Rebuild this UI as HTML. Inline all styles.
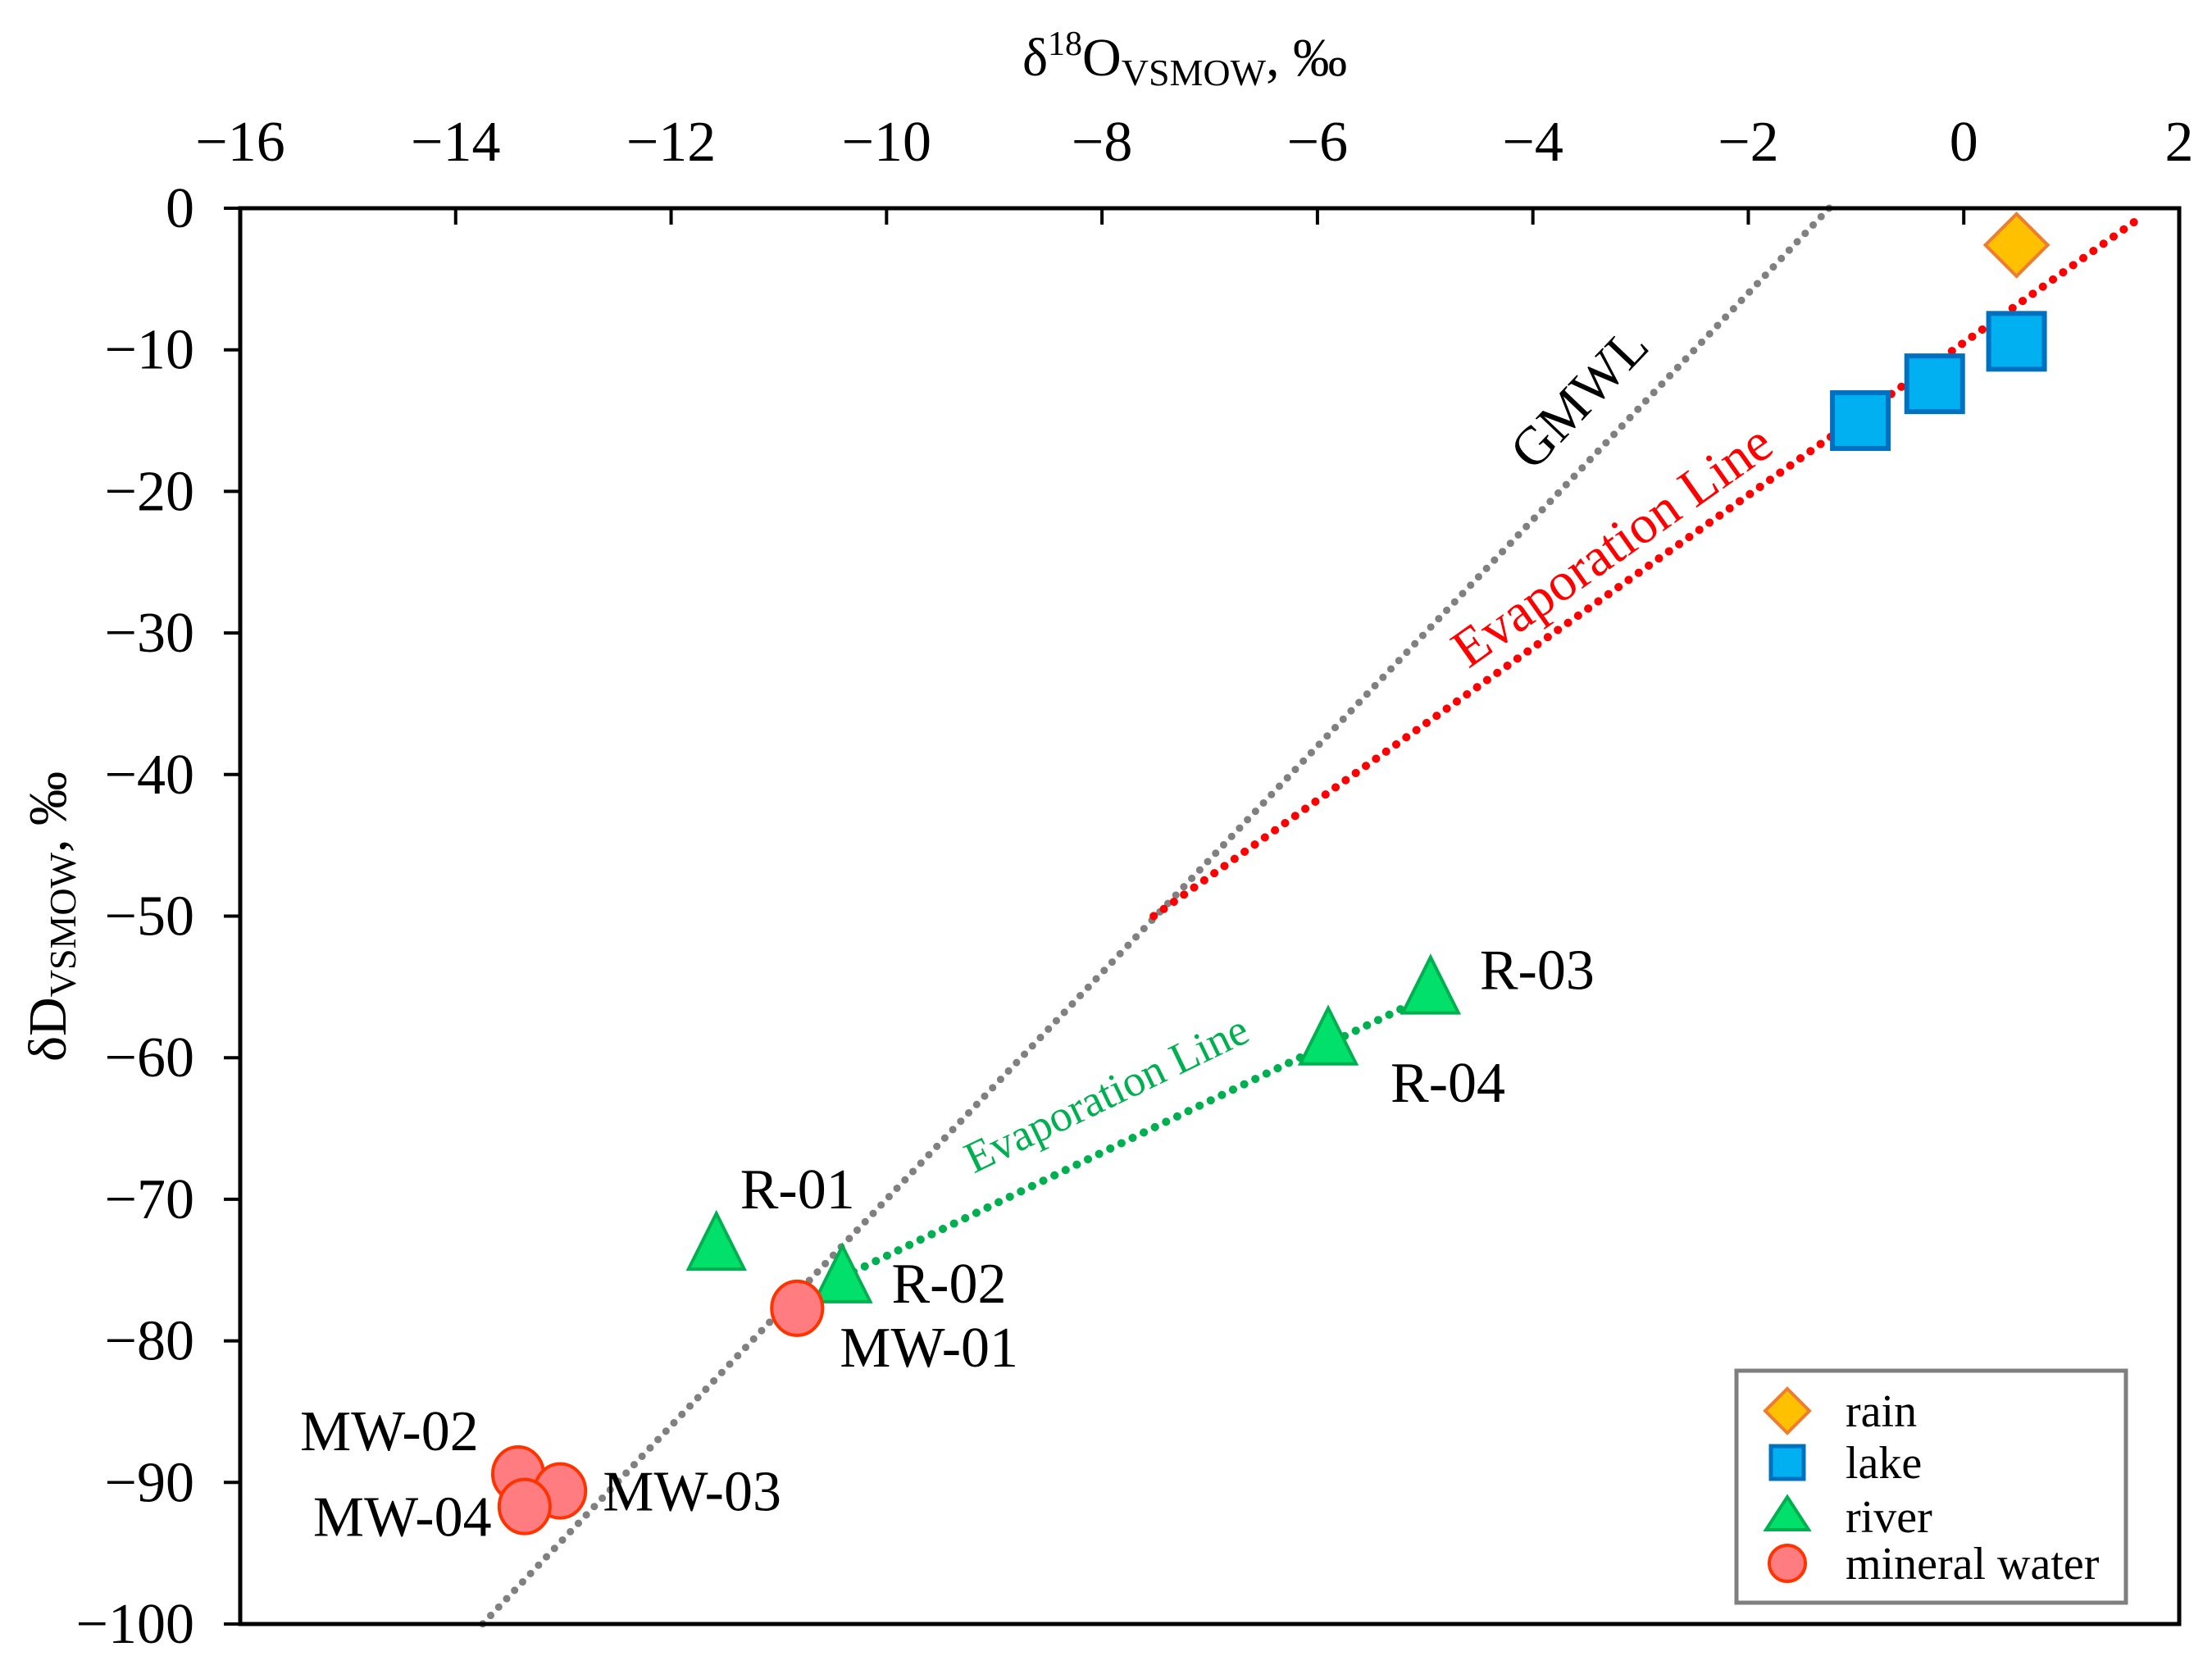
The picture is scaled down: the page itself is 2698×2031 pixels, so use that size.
<!DOCTYPE html>
<html><head><meta charset="utf-8"><style>
html,body{margin:0;padding:0;background:#fff;}
svg{display:block;font-family:"Liberation Serif",serif;}
</style></head><body>
<svg id="chart" width="2698" height="2031" viewBox="0 0 2698 2031" xmlns="http://www.w3.org/2000/svg">
<g id="lines"></g>
<g id="marks"></g>
<g id="axes"></g>
<g id="labels"></g>
<text x="1445" y="92" font-size="66" text-anchor="middle">δ<tspan font-size="42" dy="-25">18</tspan><tspan dy="25">O</tspan><tspan font-size="46" dy="12">VSMOW</tspan><tspan dy="-12">, ‰</tspan></text>
<text transform="translate(80,1118) rotate(-90)" font-size="66" text-anchor="middle">δD<tspan font-size="46" dy="12">VSMOW</tspan><tspan dy="-12">, ‰</tspan></text>
<g>
<rect x="2118" y="1672" width="475" height="283" fill="#fff" stroke="#7f7f7f" stroke-width="5"/>
<polygon points="2180,1694 2207,1721 2180,1748 2153,1721" fill="#FFC000" stroke="#ED7D31" stroke-width="4"/>
<text x="2251" y="1740" font-size="56">rain</text>
<rect x="2160" y="1764" width="40" height="40" fill="#00B0F0" stroke="#0070C0" stroke-width="5"/>
<text x="2251" y="1803" font-size="56">lake</text>
<polygon points="2180,1826 2206,1866 2154,1866" fill="#00E06A" stroke="#00B050" stroke-width="4"/>
<text x="2251" y="1869" font-size="56">river</text>
<circle cx="2180" cy="1907" r="22" fill="#FF7C80" stroke="#FF3300" stroke-width="4"/>
<text x="2251" y="1926" font-size="56">mineral water</text>
</g>
</svg>
<script>
const xTicks=[-16,-14,-12,-10,-8,-6,-4,-2,0,2];
const yTicks=[0,-10,-20,-30,-40,-50,-60,-70,-80,-90,-100];
const rainX=[0.49], rainY=[-2.6];
const lakeX=[-0.96,-0.27,0.49], lakeY=[-15.0,-12.4,-9.4];
const riverNames=["R-01","R-02","R-04","R-03"];
const riverX=[-11.58,-10.41,-5.9,-4.95], riverY=[-73.2,-75.5,-58.7,-55.1];
const mineralNames=["MW-01","MW-02","MW-03","MW-04"];
const mineralX=[-10.83,-13.42,-13.03,-13.36], mineralY=[-77.7,-89.4,-90.6,-91.7];
const gmwlSlope=8, gmwlIntercept=10;
const redEvapX=[-7.52,1.67], redEvapY=[-50.0,-0.5];
const greenEvapX=[-10.41,-5.07], greenEvapY=[-75.5,-56.0];

const X0=293,X1=2658,Y0=254,Y1=1981,XMIN=-16,XMAX=2,YMIN=-100,YMAX=0;
const sx=v=>X0+(v-XMIN)/(XMAX-XMIN)*(X1-X0);
const sy=v=>Y0+(YMAX-v)/(YMAX-YMIN)*(Y1-Y0);
const NS="http://www.w3.org/2000/svg";
function mk(tag,attrs,parent,txt){const e=document.createElementNS(NS,tag);for(const k in attrs)e.setAttribute(k,attrs[k]);if(txt!==undefined)e.textContent=txt;parent.appendChild(e);return e;}
const axes=document.getElementById('axes'),lines=document.getElementById('lines'),marks=document.getElementById('marks'),labels=document.getElementById('labels');

let f=mk('rect',{x:X0,y:Y0,width:X1-X0,height:Y1-Y0,fill:'none',stroke:'#000','stroke-width':5},axes);


xTicks.forEach(t=>{
 const x=sx(t);
 if(t<XMAX){const l=mk('line',{x1:x,y1:Y0,x2:x,y2:Y0+20,stroke:'#000','stroke-width':4},axes);
 
 }
 const tx=mk('text',{x:x,y:196,'font-size':70,'text-anchor':'middle'},axes,t<0?'\u2212'+Math.abs(t):String(t));
 
 
});
yTicks.forEach(t=>{
 const y=sy(t);
 const l=mk('line',{x1:X0-20,y1:y,x2:X0,y2:y,stroke:'#000','stroke-width':4},axes);
 
 
 const tx=mk('text',{x:237,y:y+23,'font-size':70,'text-anchor':'end'},axes,t<0?'\u2212'+Math.abs(t):String(t));
 
 
});

const gx0=(YMAX-gmwlIntercept)/gmwlSlope, gx1=(YMIN-gmwlIntercept)/gmwlSlope;
let g=mk('line',{x1:sx(gx0),y1:sy(YMAX),x2:sx(gx1),y2:sy(YMIN),stroke:'#808080','stroke-width':9,'stroke-dasharray':'0.1 14','stroke-linecap':'round'},lines);


let r=mk('line',{x1:sx(redEvapX[0]),y1:sy(redEvapY[0]),x2:sx(redEvapX[1]),y2:sy(redEvapY[1]),stroke:'#FF0000','stroke-width':10,'stroke-dasharray':'0.1 15','stroke-linecap':'round'},lines);


let gr=mk('line',{x1:sx(greenEvapX[0]),y1:sy(greenEvapY[0]),x2:sx(greenEvapX[1]),y2:sy(greenEvapY[1]),stroke:'#00B050','stroke-width':10,'stroke-dasharray':'0.1 15','stroke-linecap':'round'},lines);



let t1=mk('text',{transform:'translate(1931,490) rotate(-46.4)','font-size':66,'text-anchor':'middle','dominant-baseline':'middle'},lines,'GMWL');


let t2=mk('text',{transform:'translate(1970,671) rotate(-35.3)','font-size':66,'text-anchor':'middle','dominant-baseline':'middle',fill:'#FF0000'},lines,'Evaporation Line');


let t3=mk('text',{transform:'translate(1352,1339) rotate(-25.7)','font-size':54,'text-anchor':'middle','dominant-baseline':'middle',fill:'#00B050'},lines,'Evaporation Line');



rainX.forEach((v,i)=>{const x=sx(v),y=sy(rainY[i]);
 const p=mk('polygon',{points:`${x},${y-38} ${x+38},${y} ${x},${y+38} ${x-38},${y}`,fill:'#FFC000',stroke:'#ED7D31','stroke-width':4},marks);
 
 });
lakeX.forEach((v,i)=>{const x=sx(v),y=sy(lakeY[i]);
 const p=mk('rect',{x:x-34,y:y-34,width:68,height:68,fill:'#00B0F0',stroke:'#0070C0','stroke-width':6},marks);
 
 });
riverX.forEach((v,i)=>{const x=sx(v),y=sy(riverY[i]);
 const p=mk('polygon',{points:`${x},${y-38} ${x+34},${y+30} ${x-34},${y+30}`,fill:'#00E06A',stroke:'#00B050','stroke-width':4},marks);
 
 });
mineralX.forEach((v,i)=>{const x=sx(v),y=sy(mineralY[i]);
 const p=mk('ellipse',{cx:x,cy:y,rx:31,ry:33,fill:'#FF7C80',stroke:'#FF3300','stroke-width':4},marks);
 
 });

const riverOff=[[29,-60],[60,15],[76,60],[60,-15]];
riverX.forEach((v,i)=>{const tx=mk('text',{x:sx(v)+riverOff[i][0],y:sy(riverY[i])+riverOff[i][1],'font-size':70,'dominant-baseline':'middle'},labels,riverNames[i]);
 
 });
const minOff=[[52,55],[-266,-45],[52,8],[-258,20]];
mineralX.forEach((v,i)=>{const tx=mk('text',{x:sx(v)+minOff[i][0],y:sy(mineralY[i])+minOff[i][1],'font-size':70,'dominant-baseline':'middle'},labels,mineralNames[i]);
 
 });
</script>
</body></html>
